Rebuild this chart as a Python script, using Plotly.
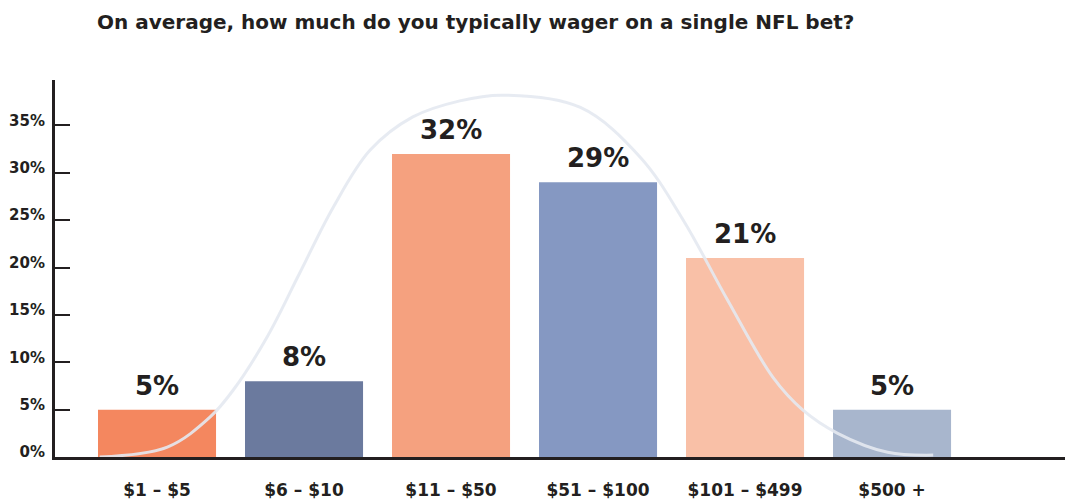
import plotly.graph_objects as go

categories = ['$1 – $5', '$6 – $10', '$11 – $50', '$51 – $100', '$101 – $499', '$500 +']
shares = [5, 8, 32, 29, 21, 5]
bar_colors = ['#F4875F', '#6B7A9E', '#F5A17F', '#8598C2', '#F9C0A7', '#A8B6CD']
ytick_vals = [0, 5, 10, 15, 20, 25, 30, 35]

# decorative bell curve (category units, %)
curve_x = [-0.39, 0.07, 0.36, 0.52, 0.75, 0.97, 1.20, 1.45, 1.74, 2.06, 2.35,
           2.88, 3.29, 3.58, 3.88, 4.19, 4.39, 4.63, 4.97, 5.28]
curve_y = [0.0, 1.05, 4.2, 7.1, 12.7, 19.4, 26.4, 32.4, 35.9, 37.6, 38.2,
           36.9, 31.6, 25.0, 16.6, 8.4, 5.0, 2.5, 0.5, 0.2]

xpos = list(range(len(categories)))
dark = '#231F20'
font = 'DejaVu Sans'

fig = go.Figure()
fig.add_trace(go.Bar(x=xpos, y=shares, marker_color=bar_colors,
                     marker_line_width=0, width=0.803, hoverinfo='skip'))
fig.add_trace(go.Scatter(x=curve_x, y=curve_y, mode='lines',
                         line=dict(color='rgba(228,233,241,0.9)', width=3,
                                   shape='spline', smoothing=1.0),
                         hoverinfo='skip'))

for i, v in enumerate(shares):
    fig.add_annotation(x=xpos[i], y=v, text=f'<b>{v}%</b>', showarrow=False,
                       yanchor='bottom', yshift=7,
                       font=dict(family=font, size=26, color=dark))

# page body has an 8px margin, so the figure is 8px smaller than the window
fig.update_layout(
    width=1065, height=494,
    margin=dict(l=47, r=0, t=72, b=45),
    plot_bgcolor='white', paper_bgcolor='white',
    showlegend=False,
    title=dict(text='<b>On average, how much do you typically wager on a single NFL bet?</b>',
               x=89 / 1065, xref='container', xanchor='left',
               y=1 - 14 / 494, yref='container', yanchor='middle',
               font=dict(family=font, size=20, color=dark)),
    xaxis=dict(range=[-0.694, 6.231], tickvals=xpos,
               ticktext=[f'<b>{c}</b>' for c in categories],
               showline=True, linecolor=dark, linewidth=3, showgrid=False,
               zeroline=False, ticks='', ticklabelstandoff=16, automargin=False,
               tickfont=dict(family=font, size=17, color=dark),
               fixedrange=True),
    yaxis=dict(range=[0, 39.8], tickvals=ytick_vals,
               ticktext=[f'<b>{t}%</b>' for t in ytick_vals],
               showline=True, linecolor=dark, linewidth=3, showgrid=False,
               zeroline=False, ticks='inside', ticklen=15, tickwidth=2,
               tickcolor=dark, ticklabelstandoff=4, ticklabelshift=-5,
               automargin=False,
               tickfont=dict(family=font, size=15, color=dark),
               fixedrange=True),
)

fig.write_html('out.html')
